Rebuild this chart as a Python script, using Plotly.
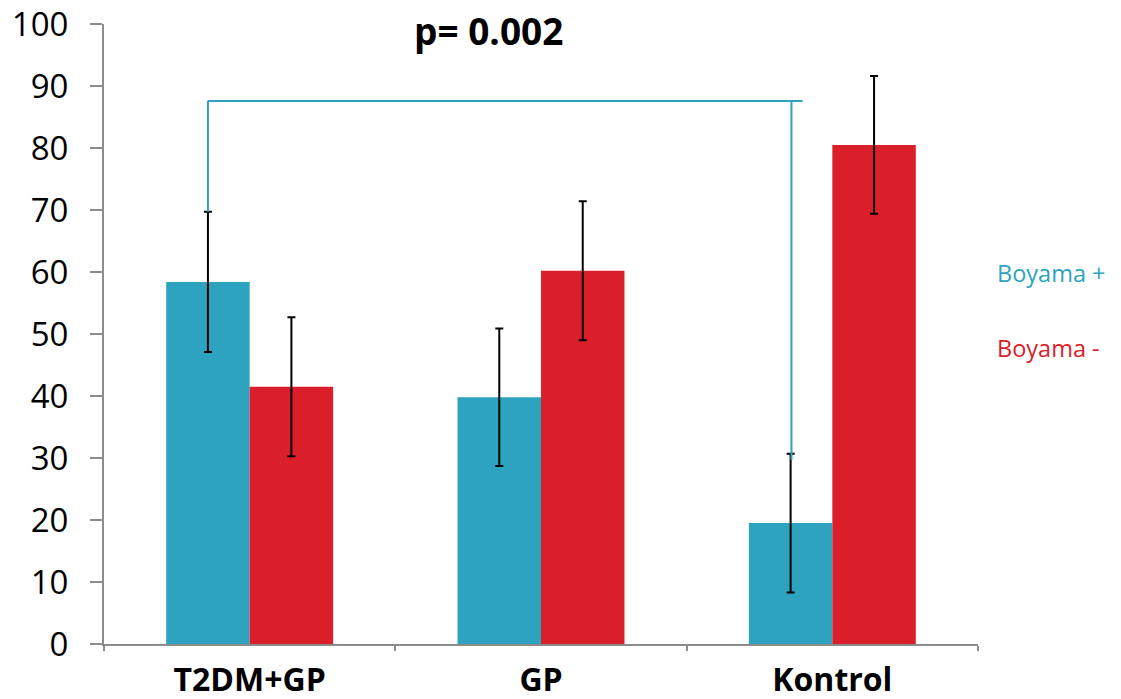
import plotly.graph_objects as go

categories = ["T2DM+GP", "GP", "Kontrol"]
boyama_pos = [58.4, 39.8, 19.5]
boyama_pos_err = [11.3, 11.1, 11.2]
boyama_neg = [41.5, 60.2, 80.5]
boyama_neg_err = [11.2, 11.2, 11.1]
series_names = ["Boyama +", "Boyama -"]
p_text = "p= 0.002"
bracket_y = 87.6
bracket_right_bottom = 29.7
y_ticks = [0, 10, 20, 30, 40, 50, 60, 70, 80, 90, 100]

TEAL = "#2EA3BF"
RED = "#DA1F2A"
AXIS = "#8C8C8C"

fig = go.Figure()
fig.add_trace(go.Bar(
    x=categories, y=boyama_pos, name=series_names[0], marker_color=TEAL,
    marker_line_width=0,
    error_y=dict(type="data", array=boyama_pos_err, color="black", thickness=2, width=4),
))
fig.add_trace(go.Bar(
    x=categories, y=boyama_neg, name=series_names[1], marker_color=RED,
    marker_line_width=0,
    error_y=dict(type="data", array=boyama_neg_err, color="black", thickness=2, width=4),
))

bargap = 0.427
bar_w = (1 - bargap) / 2
left_x = 0 - bar_w / 2
right_x = 2 - bar_w / 2 + 0.003
fig.add_shape(type="line", xref="x", yref="y", x0=left_x, x1=left_x,
              y0=boyama_pos[0] + boyama_pos_err[0], y1=bracket_y,
              line=dict(color=TEAL, width=2))
fig.add_shape(type="line", xref="x", yref="y", x0=left_x, x1=right_x + 0.038,
              y0=bracket_y, y1=bracket_y, line=dict(color=TEAL, width=2))
fig.add_shape(type="line", xref="x", yref="y", x0=right_x, x1=right_x,
              y0=bracket_right_bottom, y1=bracket_y, line=dict(color=TEAL, width=2))

fig.add_annotation(text="<b>" + p_text + "</b>", x=1 - 0.18, y=99, xref="x", yref="y",
                   showarrow=False, font=dict(family="Open Sans", size=37, color="black"))
fig.add_annotation(text=series_names[0], xref="paper", yref="paper", x=1.02, y=0.598,
                   xanchor="left", yanchor="middle", showarrow=False,
                   font=dict(family="Open Sans", size=23.5, color=TEAL))
fig.add_annotation(text=series_names[1], xref="paper", yref="paper", x=1.02, y=0.478,
                   xanchor="left", yanchor="middle", showarrow=False,
                   font=dict(family="Open Sans", size=23.5, color=RED))

fig.update_layout(
    width=1121, height=699,
    margin=dict(l=96, r=151, t=16, b=63, autoexpand=False),
    paper_bgcolor="white", plot_bgcolor="white",
    barmode="group", bargap=bargap, bargroupgap=0,
    showlegend=False,
    font=dict(family="Open Sans", color="black"),
)
fig.update_xaxes(
    automargin=False, ticklabeloverflow="allow",
    showline=True, linecolor=AXIS, linewidth=2,
    ticks="outside", tickson="boundaries", ticklen=5, tickcolor=AXIS, tickwidth=2,
    tickfont=dict(family="Open Sans", size=32, color="black", weight="bold"),
    ticklabelstandoff=7,
    showgrid=False, zeroline=False,
)
fig.update_yaxes(
    automargin=False, ticklabeloverflow="allow",
    range=[0, 100], tickvals=y_ticks,
    showline=True, linecolor=AXIS, linewidth=2,
    ticks="outside", ticklen=12, tickcolor=AXIS, tickwidth=2,
    tickfont=dict(family="Open Sans", size=33, color="black"),
    ticklabelstandoff=15,
    showgrid=False, zeroline=False,
)

fig.write_html("out.html")
